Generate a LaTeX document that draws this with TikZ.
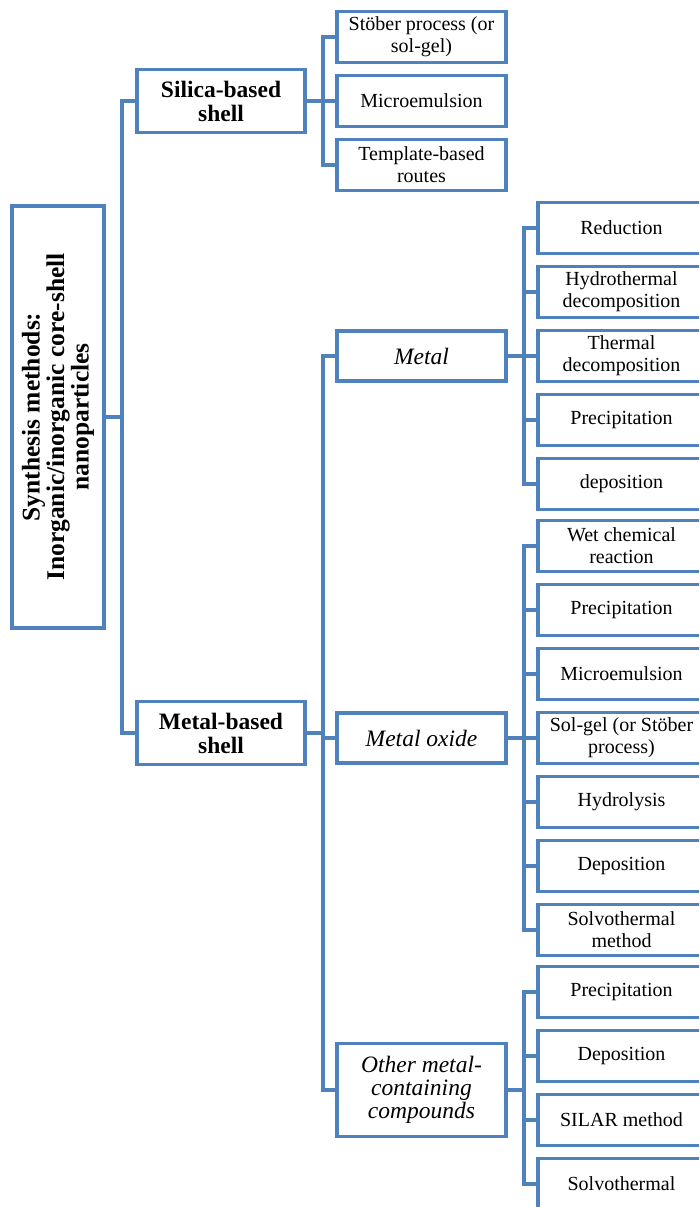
\documentclass[tikz,border=0pt]{standalone}
\usepackage{fontspec}
\setmainfont{Liberation Serif}
\usepackage{xcolor}
\usetikzlibrary{positioning}
\definecolor{boxblue}{HTML}{4F81BD}

\tikzset{
	box/.style={draw=boxblue, line width=3.5pt, fill=white, align=center, inner sep=2pt},
	rootbox/.style={box, minimum width=422pt, minimum height=92pt, font=\fontsize{25.5}{24.5}\selectfont\bfseries},
	shellbox/.style={box, minimum width=168pt, minimum height=63pt, font=\fontsize{23.5}{24}\selectfont\bfseries},
	kindbox/.style={box, minimum width=169pt, minimum height=50pt, font=\fontsize{23.5}{23}\selectfont\itshape},
	leaf/.style={box, minimum width=167pt, minimum height=51pt, font=\fontsize{20}{22}\selectfont},
	link/.style={draw=boxblue, line width=3.5pt}
}

\begin{document}
\begin{tikzpicture}[x=1pt, y=-1pt]
	\useasboundingbox (0,0) rectangle (699,1207);
	\begin{scope}
	\clip (0,0) rectangle (699,1207);

	%% left part
	\node[rootbox, rotate=90] (root) at (58,417) {Synthesis methods:\\Inorganic/inorganic core-shell\\nanoparticles};
	\node[shellbox] (silica) at (221,101) {Silica-based\\shell};
	\node[shellbox] (metalb) at (221,733) {Metal-based\\shell};

	\draw[link] (root.south) -- ++(16,0) coordinate (j1);
	\draw[link] (silica.west) -| (j1) |- (metalb.west);

	%% silica methods
	\foreach \y/\name/\txt in {37/s1/{St\"ober process (or\\sol-gel)}, 101/s2/{Microemulsion}, 165/s3/{Template-based\\routes}}
		\node[leaf, minimum width=169pt] (\name) at (421.5,\y) {\txt};

	\draw[link] (silica.east) -- ++(16,0) coordinate (j2);
	\draw[link] (s1.west) -| (j2) |- (s3.west);
	\draw[link] (j2) -- (s2.west);

	%% metal kinds
	\node[kindbox] (metal) at (421.5,356) {Metal};
	\node[kindbox] (moxide) at (421.5,738) {Metal oxide};
	\node[kindbox, minimum height=93pt] (other) at (421.5,1090) {Other metal-\\containing\\compounds};

	\draw[link] (metalb.east) -- ++(16,0) coordinate (j3);
	\draw[link] (metal.west) -| (j3) |- (other.west);
	\draw[link] (j3) |- (moxide.west);

	%% metal methods
	\foreach \y/\name/\txt in {228/m1/{Reduction}, 292/m2/{Hydrothermal\\decomposition}, 356/m3/{Thermal\\decomposition}, 420/m4/{Precipitation}, 484/m5/{deposition}}
		\node[leaf] (\name) at (621.5,\y) {\txt};

	\draw[link] (metal.east) -- ++(16,0) coordinate (jm);
	\draw[link] (m1.west) -| (jm) |- (m5.west);
	\foreach \n in {m2,m3,m4}
		\draw[link] (\n.west) -- (\n.west -| jm);

	%% metal oxide methods
	\foreach \y/\name/\txt in {546/o1/{Wet chemical\\reaction}, 610/o2/{Precipitation}, 674/o3/{Microemulsion}, 738/o4/{Sol-gel (or St\"ober\\process)}, 802/o5/{Hydrolysis}, 866/o6/{Deposition}, 930/o7/{Solvothermal\\method}}
		\node[leaf] (\name) at (621.5,\y) {\txt};

	\draw[link] (moxide.east) -- ++(16,0) coordinate (jo);
	\draw[link] (o1.west) -| (jo) |- (o7.west);
	\foreach \n in {o2,o3,o4,o5,o6}
		\draw[link] (\n.west) -- (\n.west -| jo);

	%% other compounds methods
	\foreach \y/\name/\txt in {992/c1/{Precipitation}, 1056/c2/{Deposition}, 1120/c3/{SILAR method}, 1184/c4/{Solvothermal}}
		\node[leaf] (\name) at (621.5,\y) {\txt};

	\draw[link] (other.east) -- ++(16,0) coordinate (jc);
	\draw[link] (c1.west) -| (jc) |- (c4.west);
	\foreach \n in {c2,c3}
		\draw[link] (\n.west) -- (\n.west -| jc);
	\end{scope}
\end{tikzpicture}
\end{document}
